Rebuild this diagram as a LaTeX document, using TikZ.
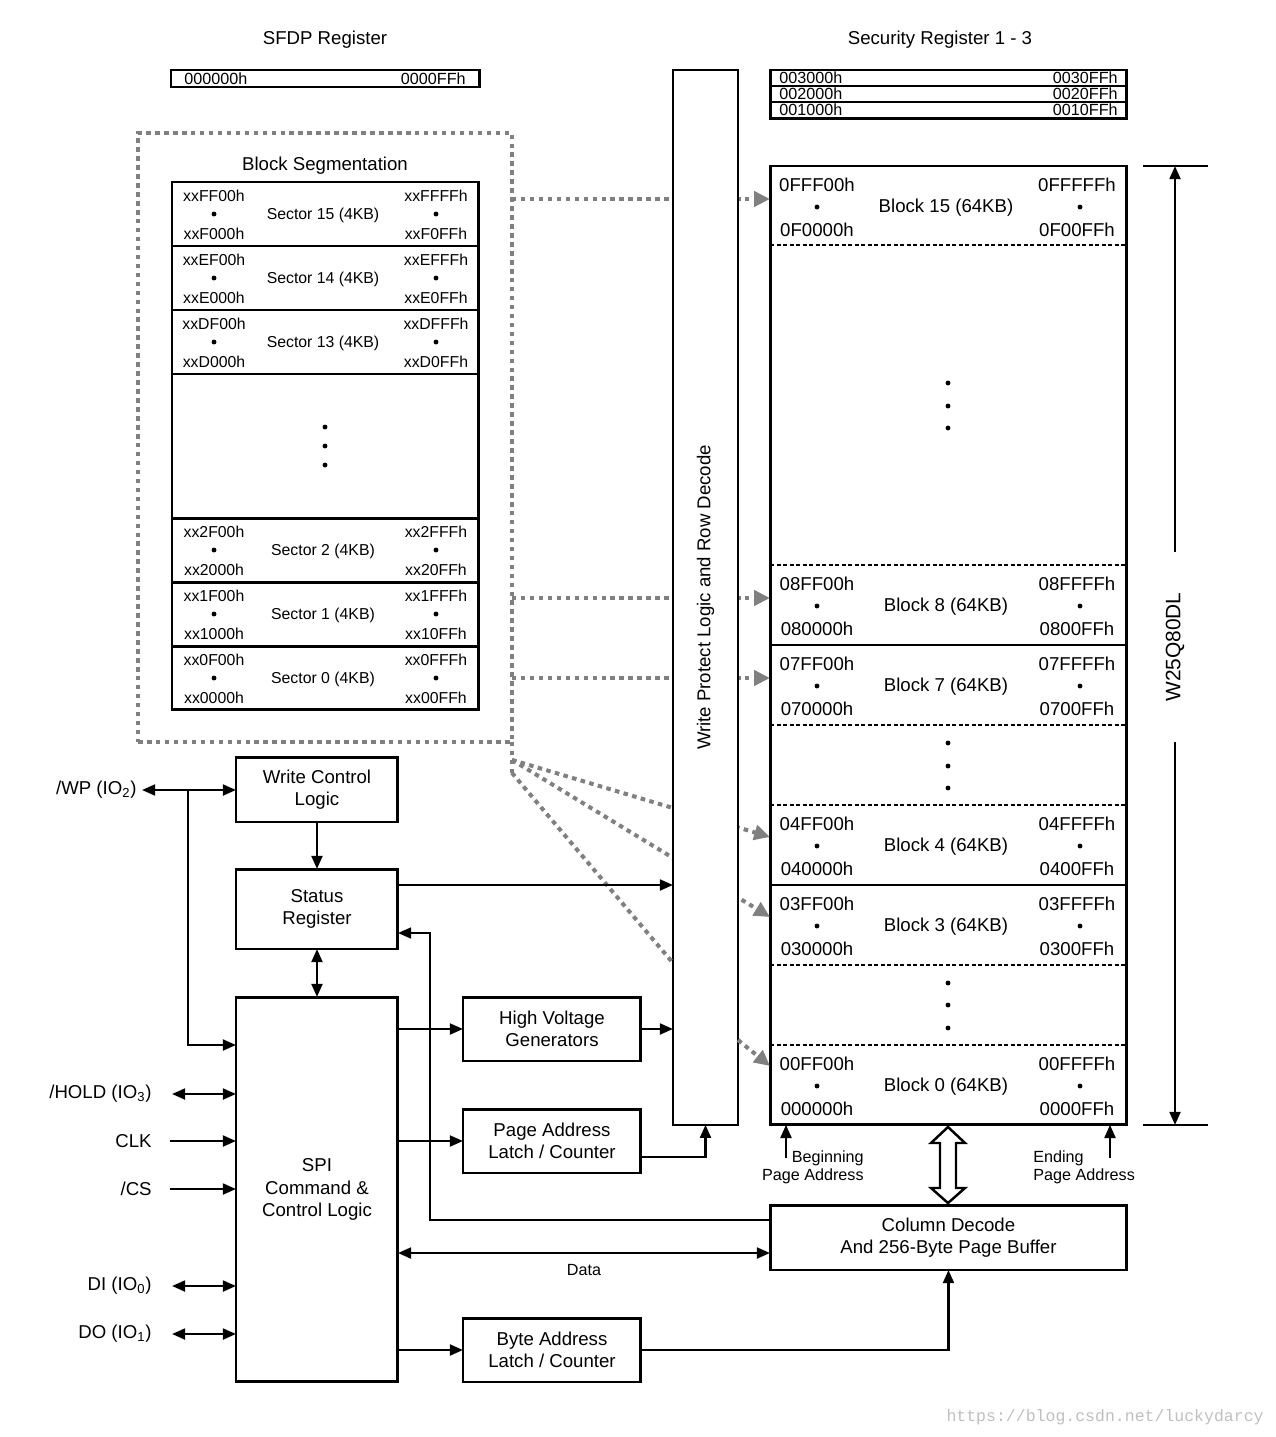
\documentclass[tikz,border=0pt]{standalone}
\usepackage{fontspec}
\setmainfont{Liberation Sans}
\setmonofont{Liberation Mono}
\usetikzlibrary{arrows.meta}
\newcommand\ftitle{\fontsize{10.6pt}{12.8pt}\selectfont}
\newcommand\fsect{\fontsize{9pt}{10.8pt}\selectfont}
\newcommand\fsmall{\fontsize{9.2pt}{10.3pt}\selectfont}
\newcommand\fpart{\fontsize{11.9pt}{14pt}\selectfont}
\tikzset{
  block/.style={draw, line width=1.7pt, outer sep=0, inner sep=0, align=center, anchor=north west, font=\ftitle},
  slot/.style={outer sep=0, inner sep=0, anchor=north west},
  txt/.style={inner sep=0, font=\ftitle},
  arr/.style={line width=1.4pt, -{Triangle[length=7.5pt,width=6.2pt]}},
  dbl/.style={line width=1.4pt, {Triangle[length=7.5pt,width=6.2pt]}-{Triangle[length=7.5pt,width=6.2pt]}},
  gline/.style={draw=black!50, line width=2.3pt, dash pattern=on 2.6pt off 2.5pt},
  garr/.style={gline, -{Triangle[length=9pt,width=8.5pt]}},
}
\begin{document}
\begin{tikzpicture}[x=0.02cm, y=-0.02cm]
        \useasboundingbox (0,0) rectangle (1275,1437);
        \node[txt] (sfdptitle) at (325,40) {SFDP Register};
        \node[block, minimum width=6.18cm, minimum height=0.34cm] (sfdp) at (171,70) {};
        \node[txt, font=\fsmall, anchor=west] (sfdplo) at (184,79) {000000h};
        \node[txt, font=\fsmall, anchor=east] (sfdphi) at (466,79) {0000FFh};
        \node[txt] (sectitle) at (940,40) {Security Register 1 - 3};
        \node[block, minimum width=7.14cm, minimum height=0.98cm] (secreg) at (770,70) {};
        \draw[line width=0.7pt] (secreg.west |- 0,86) -- (secreg.east |- 0,86) (secreg.west |- 0,102) -- (secreg.east |- 0,102);
        \foreach \r/\ty in {3/78,2/94,1/110} {
          \node[txt, font=\fsmall, anchor=west] (seclo\r) at (779,\ty) {00\r000h};
          \node[txt, font=\fsmall, anchor=east] (sechi\r) at (1118,\ty) {00\r0FFh};
        }
        \node[slot, draw=black!50, line width=2.3pt, dash pattern=on 2.6pt off 2.5pt, minimum width=7.48cm, minimum height=12.18cm] (blkseg) at (138,133) {};
        \node[txt] (segtitle) at (325,166) {Block Segmentation};
        \node[block, minimum width=6.14cm, minimum height=10.56cm] (sectbl) at (172,182) {};
        \foreach \ty in {246,310,374,518,582,646}
          \draw[line width=1.7pt] (sectbl.west |- 0,\ty) -- (sectbl.east |- 0,\ty);
        \foreach \sn/\hx/\ty in {15/F/182,14/E/246,13/D/310,2/2/518,1/1/582,0/0/646} {
          \node[txt, font=\fsect] (sect\sn-lbl) at (323,\ty+33) {Sector \sn\ (4KB)};
          \node[txt, font=\fsect] (sect\sn-tl) at (214,\ty+14) {xx\hx F00h};
          \node[txt, font=\fsect] (sect\sn-bl) at (214,\ty+52) {xx\hx000h};
          \node[txt, font=\fsect] (sect\sn-tr) at (436,\ty+14) {xx\hx FFFh};
          \node[txt, font=\fsect] (sect\sn-br) at (436,\ty+52) {xx\hx0FFh};
          \fill (214,\ty+32) circle (1.4pt) (436,\ty+32) circle (1.4pt);
        }
        \fill (325,427) circle (1.4pt) (325,446) circle (1.4pt) (325,465) circle (1.4pt);
        \node[block, minimum width=7.14cm, minimum height=19.18cm] (mem) at (770,166) {};
        \foreach \sn/\hx/\ty in {15/F/166,8/8/565,7/7/645,4/4/805,3/3/885,0/0/1045} {
          \node[slot, minimum width=7.14cm, minimum height=1.6cm] (blk\sn) at (770,\ty) {};
          \node[txt] (blk\sn-lbl) at (946,\ty+42) {Block \sn\ (64KB)};
          \node[txt] (blk\sn-tl) at (817,\ty+19) {0\hx FF00h};
          \node[txt] (blk\sn-bl) at (817,\ty+64) {0\hx0000h};
          \node[txt] (blk\sn-tr) at (1077,\ty+19) {0\hx FFFFh};
          \node[txt] (blk\sn-br) at (1077,\ty+64) {0\hx00FFh};
          \fill (817,\ty+41) circle (1.4pt) (1080,\ty+41) circle (1.4pt);
        }
        \foreach \ty in {245,565,725,805,965,1045}
          \draw[line width=0.6pt, dash pattern=on 2.3pt off 1.4pt] (mem.west |- 0,\ty) -- (mem.east |- 0,\ty);
        \foreach \ty in {645,885}
          \draw[line width=0.7pt] (mem.west |- 0,\ty) -- (mem.east |- 0,\ty);
        \foreach \ty in {383,406,428,743,766,788,983,1005,1028}
          \fill (948,\ty) circle (1.4pt);
        \draw[gline] (blkseg.south east) -- ++(0,-0.62cm);
        \draw[garr] ([yshift=0.14cm]blkseg.east |- blk15.west) -- ([yshift=0.14cm]blk15.west);
        \draw[garr] ([yshift=0.14cm]blkseg.east |- blk8.west) -- ([yshift=0.14cm]blk8.west);
        \draw[garr] ([yshift=0.14cm]blkseg.east |- blk7.west) -- ([yshift=0.14cm]blk7.west);
        \draw[garr] ([yshift=-0.36cm]blkseg.south east) -- ([yshift=0.16cm]blk4.west);
        \draw[garr] ([yshift=-0.36cm]blkseg.south east) -- ([yshift=0.16cm]blk3.west);
        \node[draw, fill=white, line width=0.9pt, slot, minimum width=1.3cm, minimum height=21.1cm] (wpl) at (673,70) {};
        \draw[garr] ([yshift=-0.62cm]blkseg.south east) -- (wpl.west |- 0,963) (wpl.east |- 0,1040) -- ([yshift=0.38cm]blk0.west);
        \node[txt, rotate=90] (wpltxt) at (wpl.center) {Write Protect Logic and Row Decode};
        \coordinate (dimtop) at (1175,166);
        \coordinate (dimbot) at (1175,1125);
        \draw[line width=0.8pt] (1143,166) -- (1208,166) (1143,1125) -- (1208,1125);
        \node[txt, font=\fpart, rotate=90, inner xsep=0.8cm] (part) at (1175,647) {W25Q80DL};
        \draw[arr] (part.east) -- (dimtop);
        \draw[arr] (part.west) -- (dimbot);
        \node[block, minimum width=3.24cm, minimum height=1.3cm] (wcl) at (236,757) {Write Control\\Logic};
        \node[block, minimum width=3.24cm, minimum height=1.6cm] (status) at (236,869) {Status\\Register};
        \node[block, minimum width=3.24cm, minimum height=7.7cm] (spi) at (236,997) {SPI\\Command \&\\Control Logic};
        \node[block, minimum width=3.56cm, minimum height=1.28cm] (hv) at (463,997) {High Voltage\\Generators};
        \node[block, minimum width=3.56cm, minimum height=1.28cm] (pal) at (463,1109) {Page Address\\Latch / Counter};
        \node[block, minimum width=3.56cm, minimum height=1.28cm] (bal) at (463,1318) {Byte Address\\Latch / Counter};
        \node[block, minimum width=7.14cm, minimum height=1.3cm] (coldec) at (770,1205) {Column Decode\\And 256-Byte Page Buffer};
        \node[txt, anchor=east] (pinWP) at (137,790) {/WP (IO\textsubscript{2})};
        \node[txt, anchor=east] (pinHOLD) at (152,1094) {/HOLD (IO\textsubscript{3})};
        \node[txt, anchor=east] (pinCLK) at (152,1141) {CLK};
        \node[txt, anchor=east] (pinCS) at (152,1189) {/CS};
        \node[txt, anchor=east] (pinDI) at (152,1286) {DI (IO\textsubscript{0})};
        \node[txt, anchor=east] (pinDO) at (152,1334) {DO (IO\textsubscript{1})};
        \draw[dbl] ([xshift=0.1cm]pinWP.east) -- (wcl.west |- pinWP.east);
        \draw[arr] (188,790) |- (spi.west |- 0,1045);
        \draw[dbl] ([xshift=0.4cm]pinHOLD.east) -- (spi.west |- pinHOLD.east);
        \draw[arr] ([xshift=0.36cm]pinCLK.east) -- (spi.west |- pinCLK.east);
        \draw[arr] ([xshift=0.36cm]pinCS.east) -- (spi.west |- pinCS.east);
        \draw[dbl] ([xshift=0.4cm]pinDI.east) -- (spi.west |- pinDI.east);
        \draw[dbl] ([xshift=0.4cm]pinDO.east) -- (spi.west |- pinDO.east);
        \draw[arr] (wcl) -- (status);
        \draw[dbl] (status) -- (spi);
        \draw[arr] (status.east |- 0,885) -- (wpl.west |- 0,885);
        \draw[line width=1.2pt, -{Triangle[length=7.5pt,width=6.2pt]}] (coldec.west |- 0,1220) -| (430,933) -- (status.east |- 0,933);
        \draw[arr] (spi.east |- hv) -- (hv.west);
        \draw[arr] (hv.east) -- (wpl.west |- hv.east);
        \draw[arr] (spi.east |- pal) -- (pal.west);
        \draw[arr] (pal.east |- 0,1157) -| (wpl.south);
        \draw[arr] (spi.east |- bal) -- (bal.west);
        \draw[arr] (bal.east) -| (coldec.south);
        \draw[dbl] (spi.east |- 0,1253) -- (coldec.west |- 0,1253);
        \node[txt, font=\fsmall] (datalbl) at (584,1270) {Data};
        \draw[line width=1.4pt, fill=white] (948,1127) -- (965,1143) -- (956,1143) -- (956,1188) -- (965,1188) -- (948,1203) -- (931,1188) -- (940,1188) -- (940,1143) -- (931,1143) -- cycle;
        \coordinate (begtail) at (786,1158);
        \coordinate (endtail) at (1110,1158);
        \draw[arr] (begtail) -- (begtail |- mem.south);
        \draw[arr] (endtail) -- (endtail |- mem.south);
        \node[txt, font=\fsmall, align=right, anchor=east] (beglbl) at (864,1167) {Beginning\\Page Address};
        \node[txt, font=\fsmall, align=left, anchor=west] (endlbl) at (1033,1167) {Ending\\Page Address};
        \node[txt, font=\fontsize{9.4pt}{11pt}\ttfamily, text=black!25, anchor=east] (mark) at (1264,1417) {https://blog.csdn.net/luckydarcy};
\end{tikzpicture}
\end{document}
